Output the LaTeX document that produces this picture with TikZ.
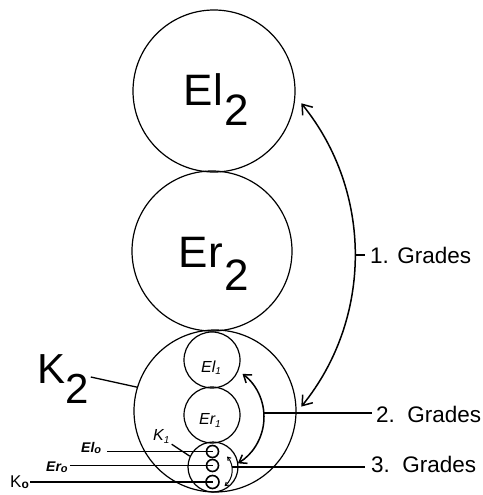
\documentclass[tikz,border=0pt]{standalone}
\usepackage{fontspec}
\setmainfont{Liberation Sans}
\usetikzlibrary{arrows.meta}
\begin{document}
\begin{tikzpicture}[x=1pt,y=1pt,
  ring/.style={circle,draw,line width=1.2pt,inner sep=0pt,minimum size=#1},
  tiny/.style={circle,draw,line width=1.6pt,inner sep=0pt,minimum size=#1},
  big/.style={font=\fontsize{44}{44}\selectfont,inner sep=0pt,anchor=base west},
  hand/.style={font=\fontsize{16}{16}\selectfont\itshape,inner sep=0pt,anchor=base west},
  handbold/.style={font=\fontsize{14}{14}\selectfont\bfseries\itshape,inner sep=0pt,anchor=base west},
  grade/.style={font=\fontsize{22.5}{22.5}\selectfont,inner sep=0pt,anchor=base west},
  conn/.style={line width=1.3pt},
  bowline/.style={line width=1.5pt},
  bigtip/.style={{Straight Barb[length=9pt,width=13pt]}-{Straight Barb[length=9pt,width=13pt]}},
  midtip/.style={{Straight Barb[length=7pt,width=10pt]}-{Straight Barb[length=7pt,width=10pt]}},
  smalltip/.style={{Straight Barb[length=3pt,width=4pt]}-{Straight Barb[length=3pt,width=4pt]}}
]
\useasboundingbox (0,0) rectangle (482,-495);

% circles
\node[ring=162pt] (El2c) at (214,-91) {};
\node[ring=160pt] (Er2c) at (212,-251) {};
\node[ring=162pt] (K2c) at (215,-411) {};
\node[ring=56pt] (El1c) at (212,-360) {};
\node[ring=56pt] (Er1c) at (212,-415) {};
\node[ring=50pt] (K1c) at (213,-467) {};
\node[tiny=12pt] (t1) at (212.5,-451.5) {};
\node[tiny=12pt] (t2) at (212.5,-465.5) {};
\node[tiny=13pt] (t3) at (212.5,-482) {};

% big labels
\node[big] (El2t) at (183.5,-105) {El\kern2pt\raisebox{-20pt}{2}};
\node[big] (Er2t) at (178.5,-267) {Er\kern1.5pt\raisebox{-23pt}{2}};
\node[big,font=\fontsize{42}{42}\selectfont] (K2t) at (37,-383) {K\raisebox{-20pt}{2}};

% handwritten labels
\node[hand] (El1t) at (201,-372) {El\raisebox{-2pt}{\fontsize{10}{10}\selectfont 1}};
\node[hand] (Er1t) at (199,-424) {Er\raisebox{-3pt}{\fontsize{10}{10}\selectfont 1}};
\node[hand] (K1t) at (153,-440) {K\raisebox{-3pt}{\fontsize{10}{10}\selectfont 1}};
\node[handbold] (El0t) at (81,-452) {El\raisebox{-1pt}{\fontsize{11}{11}\selectfont o}};
\node[handbold] (Er0t) at (46,-471) {Er\raisebox{-1pt}{\fontsize{11}{11}\selectfont o}};
\node[hand,font=\fontsize{17}{17}\selectfont] (K0t) at (10,-487) {K\raisebox{-1pt}{\fontsize{12}{12}\selectfont\bfseries o}};

% grade labels
\node[grade] (g1) at (370,-263) {1. Grades};
\node[grade] (g2) at (376,-422) {2.\ \ Grades};
\node[grade] (g3) at (371,-472) {3.\ \ Grades};

% label connectors
\draw[conn] (K2t.east |- 0,-377) ++(2pt,0) coordinate (k2s) -- (K2c.163);
\draw[conn] ([shift={(2pt,-1pt)}]K1t.south east) -- (K1c.155);
\draw[conn] ([xshift=6pt]El0t.east |- t1.center) -- (t1.center);
\draw[conn] ([xshift=2pt]Er0t.east |- t2.center) -- (t2.center);
\draw[conn] ([xshift=1pt]K0t.east |- t3.center) -- (t3.center);

% grade arcs
\coordinate (a1s) at (301.3,-103.3);
\coordinate (a1m) at (355,-255);
\draw[bowline,bigtip] (a1s) arc[start angle=39,end angle=-39,radius=241pt];
\draw[conn] (a1m) -- ([xshift=-5pt]g1.west |- a1m);

\coordinate (a2s) at (242.5,-373.9);
\coordinate (a2m) at (263.85,-413);
\draw[bowline,midtip] (a2s) arc[start angle=53,end angle=-59,radius=54pt];
\draw[conn] (a2m) -- ([xshift=-4pt]g2.west |- a2m);

\coordinate (a3s) at (227.1,-456.5);
\coordinate (a3m) at (231.8,-467);
\draw[line width=1pt,smalltip] (a3s) arc[start angle=40,end angle=-50,radius=21pt];
\draw[conn] (a3m) -- ([xshift=-6pt]g3.west |- a3m);
\end{tikzpicture}
\end{document}
